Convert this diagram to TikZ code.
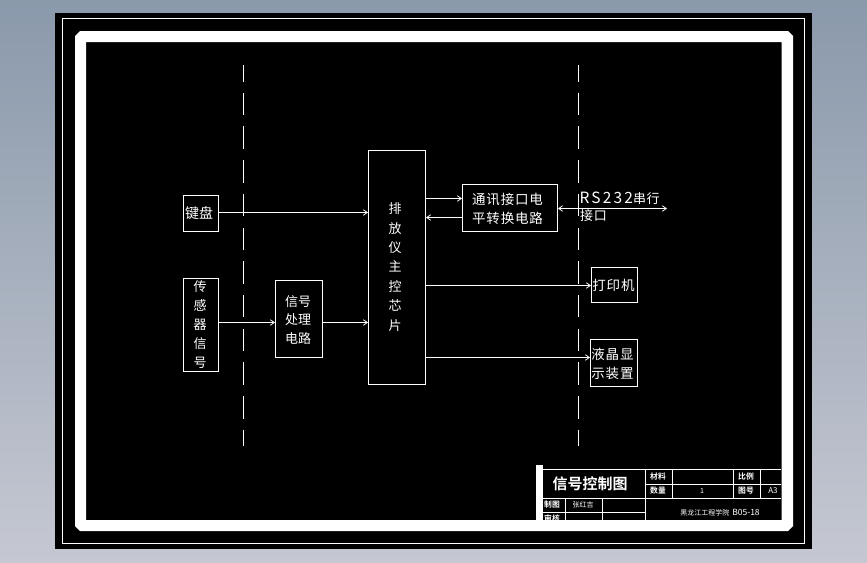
\documentclass[tikz,border=0pt]{standalone}
\usepackage{fontspec}
\newfontfamily\cjk[LetterSpace=6]{Noto Sans CJK SC}
\newfontfamily\cjkt{Noto Sans CJK SC}
\newfontfamily\cjkrs[LetterSpace=5]{Noto Sans CJK SC}
\newfontfamily\cjkrswide[LetterSpace=14]{Noto Sans CJK SC}
\newfontfamily\cjkb[BoldFont={Noto Sans CJK SC Bold}]{Noto Sans CJK SC}
\usetikzlibrary{arrows.meta}
\definecolor{bgtop}{HTML}{8A99AB}
\definecolor{bgbot}{HTML}{C5C8D2}
\tikzset{
  wire/.style={draw=white,line width=1pt},
  blockbox/.style={draw=white,line width=1pt,inner sep=0pt,anchor=north west},
  blocktext/.style={text=white,font=\cjk\fontsize{13.5}{19.2}\selectfont,align=center,inner sep=0pt},
  flow/.style={wire,-{Straight Barb[length=4pt,width=5.5pt,line width=0.8pt]}},
  flowboth/.style={wire,{Straight Barb[length=4pt,width=5.5pt,line width=0.8pt]}-{Straight Barb[length=4pt,width=5.5pt,line width=0.8pt]}},
  axisline/.style={draw=white,line width=1pt,dash pattern=on 22.5pt off 11.2pt,dash phase=6pt},
  cell/.style={text=white,font=\cjkt\fontsize{7}{8}\selectfont,inner sep=0pt},
  boldcell/.style={text=white,font=\cjkb\bfseries\fontsize{7.8}{8}\selectfont,inner sep=0pt},
  tline/.style={draw=white,line width=0.8pt}
}
\begin{document}
\begin{tikzpicture}[x=1pt,y=-1pt]
\useasboundingbox (0,0) rectangle (867,562);
\shade[top color=bgtop,bottom color=bgbot] (0,0) rectangle (867,562);
\fill[black] (55,13) rectangle (812,549);
\draw[white,line width=1pt] (62.5,18.5) rectangle (804.5,543.5);
% thick frame with chamfered corners
\fill[white,even odd rule] (80,31) -- (788,31) -- (793,36) -- (793,526) -- (788,531) -- (80,531) -- (75,526) -- (75,36) -- cycle
  (86,42) rectangle (781.5,520);
\fill[white] (535.5,465) rectangle (543,520);
% axes
\coordinate (aT) at (243.5,65); \coordinate (aB) at (243.5,446);
\coordinate (bT) at (578.5,65); \coordinate (bB) at (578.5,446);
\draw[axisline] (aT) -- (aB);
\draw[axisline] (bT) -- (bB);
% boxes
\node[blockbox,minimum width=35pt,minimum height=36pt] (key) at (183,195) {};
\node[blockbox,minimum width=35pt,minimum height=93pt] (sensor) at (183,278) {};
\node[blockbox,minimum width=47pt,minimum height=77pt] (proc) at (275,280) {};
\node[blockbox,minimum width=57pt,minimum height=234pt] (main) at (368,150) {};
\node[blockbox,minimum width=95pt,minimum height=47pt] (comm) at (462,184) {};
\node[blockbox,minimum width=46pt,minimum height=35pt] (printer) at (591,267) {};
\node[blockbox,minimum width=47pt,minimum height=47pt] (lcd) at (590,339) {};
% box texts
\node[blocktext,font=\cjkt\fontsize{14}{16}\selectfont] (keyt) at (199,213) {键盘};
\node[blocktext,font=\cjkt\fontsize{13}{19}\selectfont] (sensort) at (200,325) {传\\感\\器\\信\\号};
\node[blocktext,font=\cjkt\fontsize{13}{18.7}\selectfont] (proct) at (298,320) {信号\\处理\\电路};
\node[blocktext,font=\cjkt\fontsize{13}{19.4}\selectfont] (maint) at (395,267) {排\\放\\仪\\主\\控\\芯\\片};
\node[blocktext] (commt) at (507.5,208.5) {通讯接口电\\平转换电路};
\node[blocktext] (printert) at (613.5,285) {打印机};
\node[blocktext,font=\cjk\fontsize{13.5}{18.5}\selectfont] (lcdt) at (612.5,364) {液晶显\\示装置};
% free ends
\coordinate (rsEnd) at (667,208.5);
% connectors
\draw[flow] (key.east |- 0,212.5) -- (main.west |- 0,212.5);
\draw[flow] (sensor.east |- 0,322.5) -- (proc.west |- 0,322.5);
\draw[flow] (proc.east |- 0,322.5) -- (main.west |- 0,322.5);
\draw[flow] (main.east |- 0,198.5) -- (comm.west |- 0,198.5);
\draw[flow] (comm.west |- 0,217.5) -- (main.east |- 0,217.5);
\draw[flowboth] (comm.east |- rsEnd) -- (rsEnd);
\draw[flow] (main.east |- 0,285.5) -- (printer.west |- 0,285.5);
\draw[flow] (main.east |- 0,357.5) -- (lcd.west |- 0,357.5);
% RS232 label
\node[text=white,inner sep=0pt,anchor=base west] (rslabel) at (579.5,203) {{\cjkrswide\fontsize{15.5}{18}\selectfont RS232}{\cjkrs\fontsize{13}{18}\selectfont 串行}};
\node[text=white,font=\cjkrs\fontsize{13}{18}\selectfont,inner sep=0pt,anchor=west] (rslabelb) at (580,215.5) {接口};
% title block
\draw[tline] (543,469.5) -- (781,469.5);
\draw[tline] (645,484) -- (781,484);
\draw[tline] (543,498) -- (781,498);
\draw[tline] (543,512) -- (645,512);
\draw[tline] (645,469.5) -- (645,520);
\draw[tline] (672,469.5) -- (672,498);
\draw[tline] (733,469.5) -- (733,498);
\draw[tline] (760,469.5) -- (760,498);
\draw[tline] (565,498) -- (565,520);
\draw[tline] (602,498) -- (602,520);
\node[text=white,font=\cjkb\bfseries\fontsize{15}{16}\selectfont,inner sep=0pt] (title) at (590,484) {信号控制图};
\node[boldcell] (c1) at (658,477) {材料};
\node[boldcell] (c2) at (658,491) {数量};
\node[boldcell] (c3) at (746,476.5) {比例};
\node[boldcell] (c4) at (746,491) {图号};
\node[cell] (c5) at (702,491) {1};
\node[cell,font=\cjkt\fontsize{8}{9}\selectfont] (c6) at (773,491) {A3};
\node[boldcell] (c7) at (552,505) {制图};
\node[cell] (c8) at (583,505) {张红吉};
\node[boldcell] (c9) at (552,518) {审核};
\node[cell] (c10) at (720,512.7) {黑龙江工程学院\hspace{3pt}\fontsize{8.5}{9}\selectfont B05-18};
\end{tikzpicture}
\end{document}
